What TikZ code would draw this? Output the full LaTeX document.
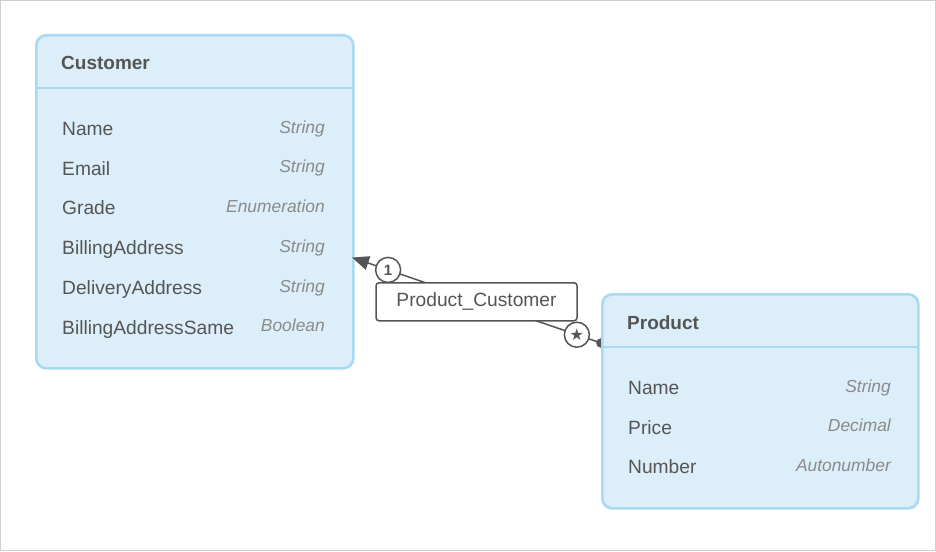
\documentclass[tikz,border=0pt]{standalone}
\usepackage{fontspec}
\setmainfont{Liberation Sans}
\newfontfamily\symfont{DejaVu Sans}
\usetikzlibrary{arrows.meta}
\definecolor{entfill}{HTML}{DBEEF9}
\definecolor{entline}{HTML}{A8DAF2}
\definecolor{txt}{HTML}{555555}
\definecolor{typ}{HTML}{8A8A8A}
\definecolor{frame}{HTML}{CFCFCF}
\tikzset{
  entity/.style={draw=entline, fill=entfill, line width=2.6pt, rounded corners=10pt, anchor=north west, inner sep=0pt},
  divider/.style={draw=entline, line width=1.6pt},
  ttl/.style={anchor=base west, inner sep=0pt, text=txt, font=\fontsize{19}{22}\selectfont\bfseries},
  attr/.style={anchor=base west, inner sep=0pt, text=txt, font=\fontsize{19.2}{22}\selectfont},
  atype/.style={anchor=base east, inner sep=0pt, text=typ, font=\fontsize{17.4}{20}\selectfont\itshape},
  conn/.style={draw=txt, line width=1.5pt},
  lbl/.style={draw=txt, fill=white, line width=1.5pt, rounded corners=3pt, minimum width=201pt, minimum height=38pt, inner sep=0pt, text=txt, font=\fontsize{19.2}{22}\selectfont},
  mult/.style={circle, draw=txt, fill=white, line width=1.5pt, minimum size=25pt, inner sep=0pt, text=txt},
}
\begin{document}
\begin{tikzpicture}[x=1pt,y=-1pt]
\draw[frame, line width=1pt, fill=white] (0.5,0.5) rectangle (935.5,550.5);
\useasboundingbox (0,0) rectangle (936,551);
% boxes (shapes first for coordinates)
\node[entity, minimum width=317pt, minimum height=333pt] (cust) at (35,34) {};
\coordinate (ce) at (352,257.5);
\coordinate (pe) at (601,343);
% connector
\draw[conn, -{Triangle[length=17pt,width=14pt]}] (pe) -- node[lbl, pos=0.5, yshift=-1.5pt] (lab) {Product\_Customer}
   node[mult, pos=0.855, font=\fontsize{15}{15}\selectfont\bfseries] (m1) {1}
   node[mult, pos=0.097, font=\fontsize{16}{16}\selectfont\symfont] (m2) {★} (ce);
\fill[txt] (pe) circle (4.8pt);
\node[entity, minimum width=316pt, minimum height=214pt] (prod) at (601,293) {};
% Customer
\draw[divider] (35,88) -- (352,88);
\node[ttl] (ct) at (61,69) {Customer};
\node[attr] (c1) at (62,135.5) {Name};
\node[attr] (c2) at (62,175) {Email};
\node[attr] (c3) at (62,214.5) {Grade};
\node[attr] (c4) at (62,254.5) {BillingAddress};
\node[attr] (c5) at (62,294.5) {DeliveryAddress};
\node[attr] (c6) at (62,334) {BillingAddressSame};
\node[atype] (t1) at (325,133) {String};
\node[atype] (t2) at (325,172.5) {String};
\node[atype] (t3) at (325,212) {Enumeration};
\node[atype] (t4) at (325,252) {String};
\node[atype] (t5) at (325,292) {String};
\node[atype] (t6) at (325,331.5) {Boolean};
% Product
\draw[divider] (601,347) -- (917,347);
\node[ttl] (pt) at (627,329) {Product};
\node[attr] (p1) at (628,394.5) {Name};
\node[attr] (p2) at (628,434) {Price};
\node[attr] (p3) at (628,473.5) {Number};
\node[atype] (u1) at (891,392) {String};
\node[atype] (u2) at (891,431.5) {Decimal};
\node[atype] (u3) at (891,471) {Autonumber};
\end{tikzpicture}
\end{document}
